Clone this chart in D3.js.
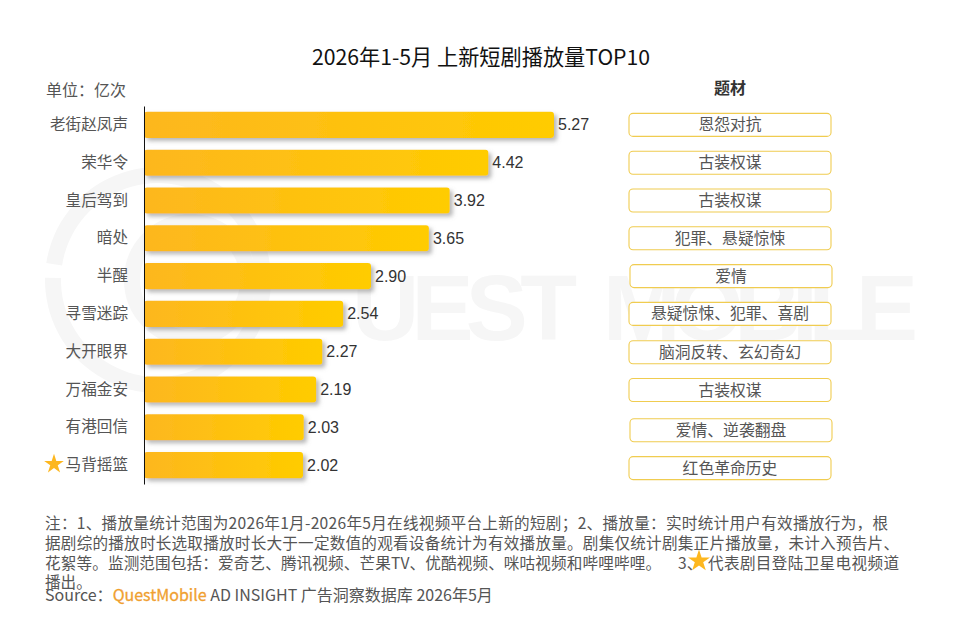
<!DOCTYPE html>
<html>
<head>
<meta charset="utf-8">
<title></title>
<script src="https://cdnjs.cloudflare.com/ajax/libs/d3/7.8.5/d3.min.js"></script>
<style>
body { margin: 0; background: #fff; }
text { font-family: "Noto Sans CJK SC", "Noto Sans", sans-serif; }
</style>
</head>
<body>
<script>
const titleText = '2026年1-5月 上新短剧播放量TOP10';
const unitText = '单位：亿次';
const tagTitle = '题材';
const dramas = ['老街赵凤声', '荣华令', '皇后驾到', '暗处', '半醒', '寻雪迷踪', '大开眼界', '万福金安', '有港回信', '马背摇篮'];
const plays = [5.27, 4.42, 3.92, 3.65, 2.90, 2.54, 2.27, 2.19, 2.03, 2.02];
const genres = ['恩怨对抗', '古装权谋', '古装权谋', '犯罪、悬疑惊悚', '爱情', '悬疑惊悚、犯罪、喜剧', '脑洞反转、玄幻奇幻', '古装权谋', '爱情、逆袭翻盘', '红色革命历史'];
const starred = ['马背摇篮'];
const noteLines = [
  '注：1、播放量统计范围为2026年1月-2026年5月在线视频平台上新的短剧；2、播放量：实时统计用户有效播放行为，根',
  '据剧综的播放时长选取播放时长大于一定数值的观看设备统计为有效播放量。剧集仅统计剧集正片播放量，未计入预告片、',
  '花絮等。监测范围包括：爱奇艺、腾讯视频、芒果TV、优酷视频、咪咕视频和哔哩哔哩。',
  '播出。'
];
const noteTail = ['3、', '代表剧目登陆卫星电视频道'];

const width = 960;
const height = 620;

const svg = d3.select('body').append('svg')
  .attr('width', width)
  .attr('height', height);

const defs = svg.append('defs');
const grad = defs.append('linearGradient').attr('id', 'barFill');
grad.append('stop').attr('offset', '0%').attr('stop-color', '#fdb71f');
grad.append('stop').attr('offset', '100%').attr('stop-color', '#ffcc00');

const shadow = defs.append('filter').attr('id', 'barShadow')
  .attr('x', '-5%').attr('y', '-30%').attr('width', '115%').attr('height', '170%');
shadow.append('feDropShadow')
  .attr('dx', 3).attr('dy', 3).attr('stdDeviation', 2)
  .attr('flood-color', '#888').attr('flood-opacity', 0.6);

// watermark
const markColor = '#f6f6f6';
const mark = svg.append('g');
mark.append('path')
  .attr('transform', 'translate(158,280)')
  .attr('fill', markColor)
  .attr('d', d3.arc()({innerRadius: 97, outerRadius: 113, startAngle: -1.42, endAngle: 2 * Math.PI - 1.55}));
mark.append('circle').attr('cx', 190).attr('cy', 280).attr('r', 58)
  .attr('fill', 'none').attr('stroke', markColor).attr('stroke-width', 16);

[['UEST', 352, 225], ['MOBILE', 603, 315]].forEach(w => {
  mark.append('text')
    .attr('x', w[1]).attr('y', 340)
    .attr('font-size', 93)
    .attr('font-weight', 700)
    .attr('fill', markColor)
    .attr('textLength', w[2])
    .style('font-family', '"Liberation Sans", sans-serif')
    .text(w[0]);
});

svg.append('text')
  .attr('x', 481).attr('y', 65)
  .attr('text-anchor', 'middle')
  .attr('font-size', 21.2)
  .attr('fill', '#111')
  .text(titleText);

svg.append('text')
  .attr('x', 46).attr('y', 96)
  .attr('font-size', 16)
  .attr('fill', '#555')
  .text(unitText);

svg.append('text')
  .attr('x', 730).attr('y', 94)
  .attr('text-anchor', 'middle')
  .attr('font-size', 16)
  .attr('font-weight', 700)
  .attr('fill', '#333')
  .text(tagTitle);

const x = d3.scaleLinear().domain([-0.04, 5.27]).range([144, 554]);
const y = d3.scaleBand().domain(dramas).range([106, 484]).paddingInner(0.31).paddingOuter(0.155);
const x0 = x.range()[0];

const rows = dramas.map((name, i) => ({name: name, value: plays[i], genre: genres[i]}));

svg.append('g')
  .selectAll('rect')
  .data(rows).enter()
  .append('rect')
  .attr('x', x0)
  .attr('y', d => y(d.name))
  .attr('width', d => x(d.value) - x0)
  .attr('height', y.bandwidth())
  .attr('rx', 3)
  .attr('fill', 'url(#barFill)')
  .attr('filter', 'url(#barShadow)');

const yAxis = d3.axisLeft(y).tickSize(0).tickPadding(16);
const axisG = svg.append('g')
  .attr('transform', `translate(${x0},0)`)
  .call(yAxis);
axisG.select('.domain').attr('stroke', '#111').attr('stroke-width', 1);
axisG.selectAll('text')
  .attr('font-size', 15.6)
  .attr('fill', '#555')
  .attr('dy', '0.33em')
  .style('font-family', '"Noto Sans CJK SC", sans-serif');

svg.append('g')
  .selectAll('text')
  .data(rows).enter()
  .append('text')
  .attr('x', d => x(d.value) + 4)
  .attr('y', d => y(d.name) + y.bandwidth() / 2 + 5.5)
  .attr('font-size', 16)
  .attr('fill', '#333')
  .style('font-family', '"Liberation Sans", sans-serif')
  .text(d => d.value.toFixed(2));

const starPath = d3.symbol().type(d3.symbolStar).size(120)();
svg.append('g')
  .selectAll('path')
  .data(rows.filter(d => starred.includes(d.name))).enter()
  .append('path')
  .attr('d', starPath)
  .attr('fill', '#fdb71f')
  .attr('transform', d => `translate(54,${y(d.name) + y.bandwidth() / 2 - 1})`);

// genre tags, the last two sit a little lower in the original
const tagY = i => y(dramas[i]) + y.bandwidth() / 2 + (i >= 8 ? 3 : i > 5 ? 0.5 : 0);
const tagX = i => (i === 4 || i === 8) ? 731 : 730;
const tags = svg.append('g')
  .selectAll('g')
  .data(rows).enter()
  .append('g')
  .attr('transform', (d, i) => `translate(${tagX(i)},${tagY(i)})`);

tags.append('rect')
  .attr('x', -101).attr('y', -11.5)
  .attr('width', 202).attr('height', 23)
  .attr('rx', 4)
  .attr('fill', '#fff')
  .attr('stroke', '#f0cc50')
  .attr('stroke-width', 1.1);

tags.append('text')
  .attr('text-anchor', 'middle')
  .attr('y', 5.5)
  .attr('font-size', 15.8)
  .attr('fill', '#555')
  .text(d => d.genre);

// notes, widths fitted to the line ends of the original
const noteWidths = [843, 854, 616, null];
svg.append('g')
  .selectAll('text')
  .data(noteLines).enter()
  .append('text')
  .attr('x', 45)
  .attr('y', (d, i) => 529 + i * 19.8)
  .attr('font-size', 15.6)
  .attr('fill', '#555')
  .attr('textLength', (d, i) => noteWidths[i])
  .text(d => d);

const tail = svg.append('text')
  .attr('y', 529 + 2 * 19.8)
  .attr('font-size', 15.6)
  .attr('fill', '#555');
tail.append('tspan').attr('x', 678).text(noteTail[0]);
tail.append('tspan').attr('x', 708).attr('textLength', 191).text(noteTail[1]);

svg.append('path')
  .attr('d', d3.symbol().type(d3.symbolStar).size(150)())
  .attr('fill', '#fdb71f')
  .attr('transform', 'translate(699,561)');

const source = svg.append('text')
  .attr('x', 45).attr('y', 601)
  .attr('font-size', 16)
  .attr('fill', '#555');
source.append('tspan').text('Source：');
source.append('tspan').attr('fill', '#f0a030').attr('stroke', '#f0a030').attr('stroke-width', 0.3).text('QuestMobile');
source.append('tspan').text(' AD INSIGHT 广告洞察数据库 2026年5月');
</script>
</body>
</html>
